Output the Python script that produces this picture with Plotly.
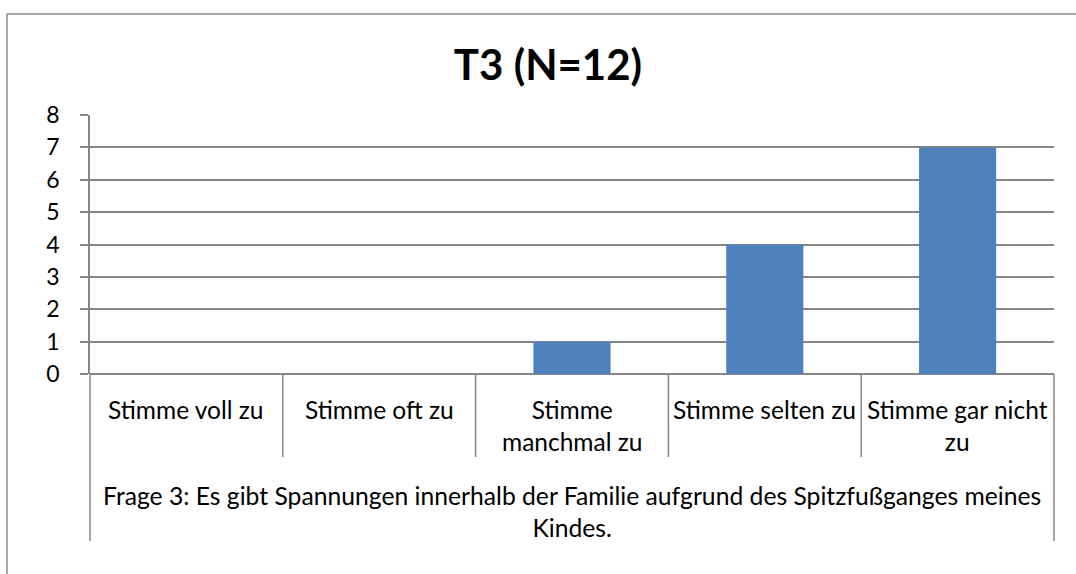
import plotly.graph_objects as go

# Survey answers for question 3 (T3, N=12)
categories = ["Stimme voll zu", "Stimme oft zu", "Stimme manchmal zu",
              "Stimme selten zu", "Stimme gar nicht zu"]
category_labels = ["Stimme voll zu", "Stimme oft zu", "Stimme<br>manchmal zu",
                   "Stimme selten zu", "Stimme gar nicht<br>zu"]
counts = [0, 0, 1, 4, 7]
y_ticks = [0, 1, 2, 3, 4, 5, 6, 7, 8]
title_text = "T3 (N=12)"
question_text = ("Frage 3: Es gibt Spannungen innerhalb der Familie aufgrund des "
                 "Spitzfußganges meines<br>Kindes.")

W, H = 1076, 574
L, R, T, B = 90, 22, 115, 200
PW, PH = W - L - R, H - T - B
FONT = "Lato"
GRID = "#868686"
BAR = "#4F81BD"


def px(x):
    return (x - L) / PW


def py(y):
    return (H - B - y) / PH


fig = go.Figure()
fig.add_trace(go.Bar(x=categories, y=counts, marker=dict(color=BAR, line=dict(width=0)),
                     width=0.4, hoverinfo="x+y"))

shapes = []
# outer chart frame (top and left edges visible)
shapes.append(dict(type="rect", xref="paper", yref="paper",
                   x0=px(7), x1=px(1095), y0=py(600), y1=py(14),
                   line=dict(color="#8c8c8c", width=1.5), layer="below"))
# category separators below the axis
n = len(categories)
for i in range(n + 1):
    bottom = 541 if i in (0, n) else 457
    shapes.append(dict(type="line", xref="paper", yref="paper",
                       x0=i / n, x1=i / n, y0=py(374), y1=py(bottom),
                       line=dict(color=GRID, width=1.5)))

annotations = []
for cat, lab in zip(categories, category_labels):
    annotations.append(dict(x=cat, xref="x", y=py(393), yref="paper", text=lab,
                            showarrow=False, yanchor="top", xanchor="center",
                            font=dict(family=FONT, size=24.5, color="#000")))
annotations.append(dict(x=0.5, xref="paper", y=py(479), yref="paper", text=question_text,
                        showarrow=False, yanchor="top", xanchor="center",
                        font=dict(family=FONT, size=24.7, color="#000")))

fig.update_layout(
    width=W, height=H,
    margin=dict(l=L, r=R, t=T, b=B, pad=0),
    paper_bgcolor="white", plot_bgcolor="white",
    showlegend=False,
    title=dict(text="<b>" + title_text + "</b>", x=548 / W, xanchor="center",
               y=1 - 65 / H, yanchor="middle", yref="container",
               font=dict(family=FONT, size=42, color="#000")),
    xaxis=dict(range=[-0.5, n - 0.5], showticklabels=False, showgrid=False,
               zeroline=False, showline=False, ticks=""),
    yaxis=dict(range=[0, 8], tickvals=y_ticks, showgrid=True, gridcolor=GRID, gridwidth=1.5,
               zeroline=True, zerolinecolor=GRID, zerolinewidth=1.5,
               showline=True, linecolor=GRID, linewidth=1.5,
               ticks="outside", ticklen=8, tickcolor=GRID, tickwidth=1.5,
               tickfont=dict(family=FONT, size=23, color="#000"), ticklabelstandoff=16),
    shapes=shapes, annotations=annotations,
    bargap=0.6,
)

fig.write_html("out.html")
